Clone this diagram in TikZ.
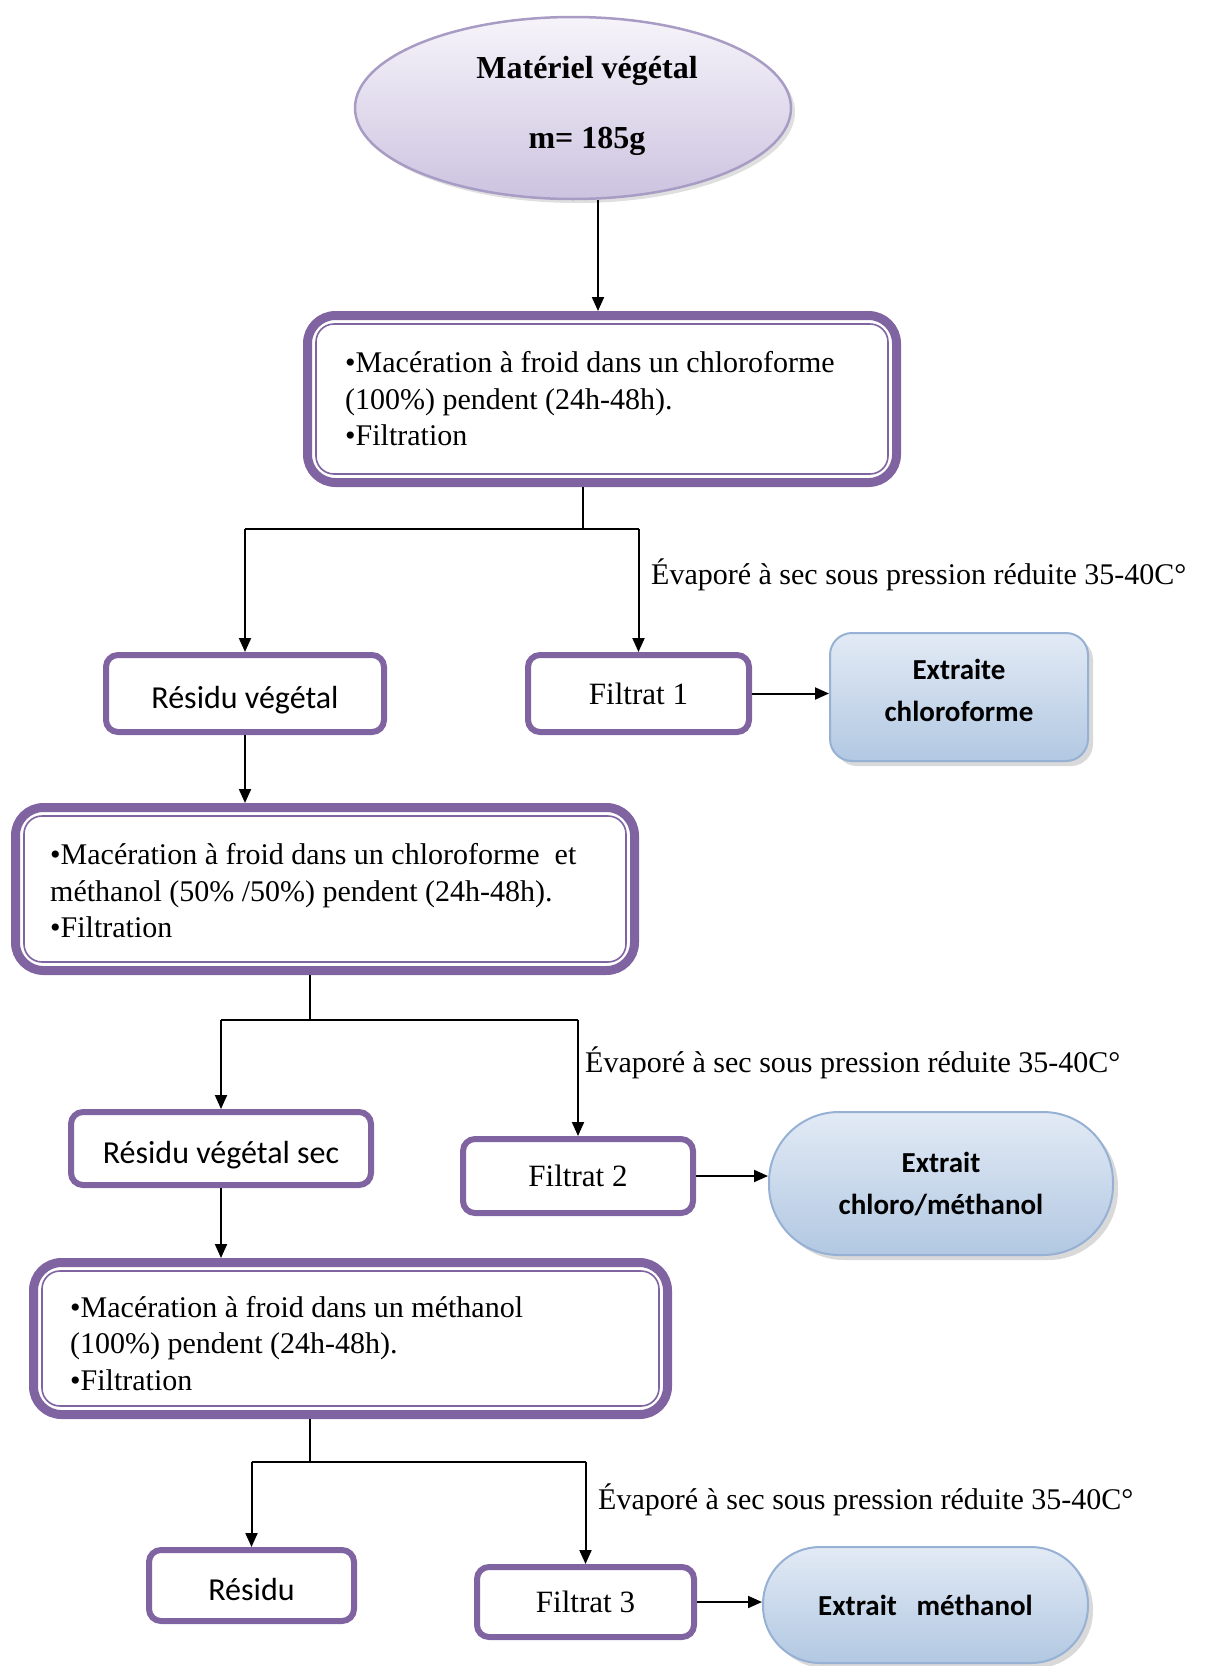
\documentclass[tikz,border=0pt]{standalone}
\usepackage{fontspec}
\setmainfont{Liberation Serif}
\newfontfamily\calfont{Carlito}
\usetikzlibrary{shapes.geometric,arrows.meta,shadows,calc}
\definecolor{pur}{RGB}{128,100,162}
\definecolor{elltop}{RGB}{246,244,250}
\definecolor{ellbot}{RGB}{204,195,224}
\definecolor{elldraw}{RGB}{168,156,196}
\definecolor{bluetop}{RGB}{226,234,245}
\definecolor{bluebot}{RGB}{178,200,226}
\definecolor{bluedraw}{RGB}{150,177,212}
\tikzset{
 pbox/.style={draw=pur, line width=6pt, rounded corners=12pt, fill=white, inner sep=0pt, font=\fontsize{31}{37}\selectfont},
 sbox/.style={pbox, font=\calfont\fontsize{32}{38}\selectfont, text height=29pt, text depth=0pt},
 bigbox/.style={draw=pur, line width=9pt, rounded corners=28pt, fill=white, inner sep=0pt},
 innerline/.style={draw=pur, line width=1.6pt, rounded corners=18pt},
 btxt/.style={anchor=west, align=left, inner sep=0pt, font=\fontsize{30}{36.5}\selectfont},
 extr/.style={draw=bluedraw, line width=2pt, top color=bluetop, bottom color=bluebot,
   drop shadow={shadow xshift=5pt, shadow yshift=-5pt, opacity=0.3, fill=gray},
   inner sep=0pt, align=center, font=\calfont\bfseries\fontsize{29}{42}\selectfont},
 extrtxt/.style={inner sep=0pt, align=center, font=\calfont\bfseries\fontsize{29}{42}\selectfont},
 evap/.style={anchor=west, inner sep=0pt, font=\fontsize{30}{36}\selectfont},
 conn/.style={line width=2pt, draw=black},
 arr/.style={conn, -{Triangle[length=14pt,width=12pt]}},
}
\begin{document}
\begin{tikzpicture}[x=1pt,y=-1pt]
\useasboundingbox (0,0) rectangle (1206,1666);
% top ellipse
\node[ellipse, draw=elldraw, line width=2.5pt, top color=elltop, bottom color=ellbot,
  minimum width=436pt, minimum height=182pt,
  drop shadow={shadow xshift=4pt, shadow yshift=-4pt, opacity=0.25, fill=gray}] (ell) at (573,108) {};
\node[align=center, inner sep=0pt, font=\bfseries\fontsize{32}{38}\selectfont] (elltxt) at (587,106) {Matériel végétal\\[32pt]m= 185g};
% box 1
\node[bigbox, minimum width=589pt, minimum height=167pt] (box1) at (602,399) {};
\draw[innerline] ($(box1.north west)+(13,13)$) rectangle ($(box1.south east)+(-13,-13)$);
\node[btxt] (t1) at ($(box1.west)+(42,0)$) {•Macération à froid dans un chloroforme\\(100\%) pendent (24h-48h).\\•Filtration};
\coordinate (a0) at (598,0);
\draw[arr] (ell.south -| a0) -- (box1.north -| a0);
% level 1
\node[sbox, minimum width=278pt, minimum height=77pt] (rv) at (245,693.5) {Résidu végétal};
\node[pbox, minimum width=221pt, minimum height=77pt] (f1) at (638.5,693.5) {Filtrat 1};
\node[extr, rounded corners=22pt, minimum width=258pt, minimum height=128pt] (e1) at (959,697) {};
\node[extrtxt] (e1t) at (959,690) {Extraite\\chloroforme};
\node[evap] (l1) at (651,575) {Évaporé à sec sous pression réduite 35-40C°};
\coordinate (j1) at (583,529);
\draw[conn] (box1.south -| j1) -- (j1);
\draw[conn] (rv.north |- j1) -- (f1.north |- j1);
\draw[arr] (rv.north |- j1) -- (rv.north);
\draw[arr] (f1.north |- j1) -- (f1.north);
\draw[arr] (f1.east) -- (f1.east -| e1.west);
% box 2
\node[bigbox, minimum width=619pt, minimum height=163pt] (box2) at (325,889) {};
\draw[innerline] ($(box2.north west)+(13,13)$) rectangle ($(box2.south east)+(-13,-13)$);
\node[btxt] (t2) at ($(box2.west)+(39,2)$) {•Macération à froid dans un chloroforme\ \ et\\méthanol (50\% /50\%) pendent (24h-48h).\\•Filtration};
\draw[arr] (rv.south) -- (rv.south |- box2.north);
% level 2
\node[sbox, minimum width=300pt, minimum height=73pt] (rvs) at (221,1148.5) {Résidu végétal sec};
\node[pbox, minimum width=230pt, minimum height=74pt] (f2) at (578,1176) {Filtrat 2};
\node[extr, rounded corners=70pt, minimum width=344pt, minimum height=143pt] (e2) at (941,1183.5) {Extrait\\chloro/méthanol};
\node[evap] (l2) at (585,1063) {Évaporé à sec sous pression réduite 35-40C°};
\coordinate (j2) at (310,1020);
\draw[conn] (box2.south -| j2) -- (j2);
\draw[conn] (rvs.north |- j2) -- (f2.north |- j2);
\draw[arr] (rvs.north |- j2) -- (rvs.north);
\draw[arr] (f2.north |- j2) -- (f2.north);
\draw[arr] (f2.east) -- (f2.east -| e2.west);
% box 3
\node[bigbox, minimum width=634pt, minimum height=152pt] (box3) at (350.5,1338.5) {};
\draw[innerline] ($(box3.north west)+(13,13)$) rectangle ($(box3.south east)+(-13,-13)$);
\node[btxt] (t3) at ($(box3.west)+(41,5)$) {•Macération à froid dans un méthanol\\(100\%) pendent (24h-48h).\\•Filtration};
\draw[arr] (rvs.south) -- (rvs.south |- box3.north);
% level 3
\node[sbox, minimum width=205pt, minimum height=71pt] (res) at (251.5,1585.5) {Résidu};
\node[pbox, minimum width=217pt, minimum height=70pt] (f3) at (585.5,1602) {Filtrat 3};
\node[extr, rounded corners=57pt, minimum width=325pt, minimum height=116pt] (e3) at (925.5,1605) {Extrait\ \ \ méthanol};
\node[evap] (l3) at (598,1500) {Évaporé à sec sous pression réduite 35-40C°};
\coordinate (j3) at (310,1462);
\draw[conn] (box3.south -| j3) -- (j3);
\draw[conn] (res.north |- j3) -- (f3.north |- j3);
\draw[arr] (res.north |- j3) -- (res.north);
\draw[arr] (f3.north |- j3) -- (f3.north);
\draw[arr] (f3.east) -- (f3.east -| e3.west);
\end{tikzpicture}
\end{document}
